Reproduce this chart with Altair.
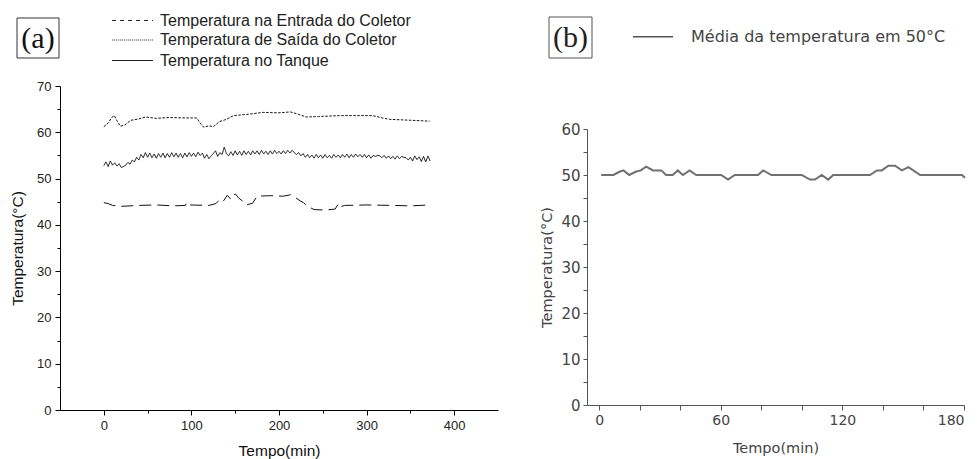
import altair as alt
import pandas as pd
import numpy as np

# ---------------- data: panel (a) ----------------
outlet_t = [0, 5, 9, 12, 15, 19, 24, 31, 38, 48, 60, 75, 90, 106, 110, 114, 120, 125, 132, 140,
            148, 165, 182, 200, 213, 222, 231, 245, 269, 290, 307, 318, 326, 350, 372]
outlet_v = [61.2, 62.0, 63.2, 63.6, 62.5, 61.3, 61.6, 62.6, 62.8, 63.3, 63.0, 63.2, 63.1, 63.1, 62.0, 61.1, 61.4, 61.2, 62.3, 62.8,
            63.6, 63.9, 64.3, 64.2, 64.4, 63.9, 63.3, 63.4, 63.6, 63.6, 63.6, 63.1, 62.8, 62.6, 62.4]

inlet_t = [0, 5, 10, 20, 40, 60, 80, 93, 95, 98, 120, 128, 132, 136, 141, 145, 150, 154, 158, 163,
           170, 175, 190, 205, 213, 218, 224, 228, 233, 240, 252, 264, 268, 270, 275, 300, 330, 350, 372]
inlet_v = [44.8, 44.6, 44.2, 44.0, 44.2, 44.3, 44.1, 44.2, 44.9, 44.3, 44.2, 44.6, 45.4, 45.0, 46.4, 45.5, 46.7, 45.8, 45.2, 44.3,
           44.7, 46.2, 46.3, 46.2, 46.5, 46.0, 45.2, 44.8, 44.0, 43.3, 43.2, 43.4, 44.6, 43.9, 44.2, 44.3, 44.2, 44.1, 44.3]

tank_t = list(np.arange(0, 375, 2.5))  # sampling times (min)
tank_v = [52.8, 53.6, 52.6, 53.8, 52.9, 53.4, 52.7, 53.2, 52.4, 52.6,
          52.9, 53.5, 53.1, 54.0, 53.6, 54.6, 54.0, 55.2, 54.5, 55.6,
          54.6, 55.5, 54.5, 55.3, 54.4, 55.4, 54.6, 55.5, 54.5, 55.4,
          54.6, 55.6, 54.7, 55.5, 54.6, 55.4, 54.5, 55.5, 54.7, 55.6,
          54.8, 55.5, 54.7, 55.7, 55.0, 55.5, 54.4, 55.2, 54.3, 54.9,
          55.4, 56.0, 54.8, 55.6, 55.2, 56.8, 55.4, 54.9, 55.8, 55.0,
          56.0, 55.1, 55.9, 55.0, 56.0, 55.2, 55.9, 55.1, 56.0, 55.3,
          56.0, 55.2, 56.1, 55.3, 55.9, 55.2, 56.0, 55.3, 56.1, 55.4,
          55.9, 55.3, 56.0, 55.4, 56.1, 55.5, 56.1, 55.6, 55.2, 55.6,
          54.9, 55.4, 54.6, 55.2, 54.5, 55.1, 54.4, 55.2, 54.5, 55.1,
          54.4, 55.2, 54.5, 55.0, 54.4, 55.2, 54.6, 55.1, 54.5, 55.2,
          54.6, 55.3, 54.5, 55.2, 54.6, 55.3, 54.7, 55.2, 54.6, 55.2,
          54.5, 55.1, 54.4, 55.0, 54.8, 55.0, 54.9, 54.5, 55.0, 54.4,
          54.9, 54.3, 54.8, 54.2, 54.9, 54.3, 54.8, 54.6, 54.5, 54.0,
          54.6, 53.8, 54.9, 54.1, 54.7, 53.7, 54.8, 53.6, 54.9, 53.8]

series_names = ["Temperatura na Entrada do Coletor",
                "Temperatura de Saída do Coletor",
                "Temperatura no Tanque"]

# ---------------- data: panel (b) ----------------
media_t = [1, 7, 10, 12, 14.8, 18, 20.5, 23.2, 26.6, 30.7, 33, 36.3, 38.8, 41.3, 44.6, 47.9, 60.2, 63.6, 66.9, 78.4,
           80.9, 85, 99.9, 104, 106.5, 109.8, 113, 115.5, 133.6, 137, 139.4, 142.7, 146, 149.3, 152.6, 158.4, 179, 180.5]
media_v = [50, 50, 50.7, 51, 50, 50.7, 51, 51.8, 51, 51, 50, 50, 51, 50, 51, 50, 50, 49, 50, 50,
           51, 50, 50, 49, 49, 50, 49, 50, 50, 51, 51, 52, 52, 51, 51.7, 50, 50, 49.4]

df_a = pd.concat([
    pd.DataFrame({"t": inlet_t, "T": inlet_v, "serie": series_names[0]}),
    pd.DataFrame({"t": outlet_t, "T": outlet_v, "serie": series_names[1]}),
    pd.DataFrame({"t": tank_t, "T": tank_v, "serie": series_names[2]}),
])
df_b = pd.DataFrame({"t": media_t, "T": media_v})
dummy = pd.DataFrame({"k": [0]})

SANS = "Liberation Sans"
SANS_B = "DejaVu Sans"

# ---------------- panel (a) lines ----------------
major_a_x = "datum.value % 100 === 0"
major_a_y = "datum.value % 10 === 0"
line_a = alt.Chart(df_a).mark_line(color="#111", strokeWidth=1).encode(
    x=alt.X("t:Q", title="Tempo(min)",
            scale=alt.Scale(domain=[-50, 450], range=[52, 490], nice=False, zero=False),
            axis=alt.Axis(orient="bottom", offset=-49, values=list(range(0, 401, 50)),
                          labelExpr=f"{major_a_x} ? datum.label : ''",
                          tickSize={"condition": {"test": major_a_x, "value": 5}, "value": 3},
                          domainColor="#000", tickColor="#000", labelColor="#222", titleColor="#111",
                          labelFont=SANS, labelFontSize=13, titleFont=SANS, titleFontSize=15.5,
                          titleFontWeight="normal", labelPadding=4, titlePadding=11, grid=False)),
    y=alt.Y("T:Q", title="Temperatura(°C)",
            scale=alt.Scale(domain=[0, 70], range=[402, 78], nice=False, zero=False),
            axis=alt.Axis(orient="left", offset=-52, values=list(range(0, 71, 5)),
                          labelExpr=f"{major_a_y} ? datum.label : ''",
                          tickSize={"condition": {"test": major_a_y, "value": 5}, "value": 3},
                          domainColor="#000", tickColor="#000", labelColor="#222", titleColor="#111",
                          labelFont=SANS, labelFontSize=13, titleFont=SANS, titleFontSize=15.5,
                          titleFontWeight="normal", labelPadding=4, titlePadding=11, grid=False)),
    strokeDash=alt.StrokeDash("serie:N", legend=None,
                              scale=alt.Scale(domain=series_names,
                                              range=[[12, 6], [2.5, 1.5], [1, 0]])),
)

# ---------------- panel (b) line ----------------
major_b_x = "datum.value % 60 === 0"
major_b_y = "datum.value % 10 === 0"
line_b = alt.Chart(df_b).mark_line(color="#707070", strokeWidth=2).encode(
    x=alt.X("t:Q", title="Tempo(min)",
            scale=alt.Scale(domain=[-6, 180], range=[579, 956], nice=False, zero=False),
            axis=alt.Axis(orient="bottom", offset=-54, values=list(range(0, 181, 20)),
                          labelExpr=f"{major_b_x} ? datum.label : ''",
                          tickSize=5,
                          domainColor="#555", tickColor="#555", labelColor="#444", titleColor="#444",
                          labelFont=SANS_B, labelFontSize=14, titleFont=SANS_B, titleFontSize=14.5,
                          titleFontWeight="normal", labelPadding=3, titlePadding=14, grid=False)),
    y=alt.Y("T:Q", title="Temperatura(°C)",
            scale=alt.Scale(domain=[0, 60], range=[397, 121], nice=False, zero=False),
            axis=alt.Axis(orient="left", offset=-579, values=list(range(0, 61, 5)),
                          labelExpr=f"{major_b_y} ? datum.label : ''",
                          tickSize=4,
                          domainColor="#555", tickColor="#555", labelColor="#444", titleColor="#444",
                          labelFont=SANS_B, labelFontSize=15, titleFont=SANS_B, titleFontSize=14.5,
                          titleFontWeight="normal", labelPadding=3, titlePadding=6, grid=False)),
)


# ---------------- annotations ----------------
def text_at(txt, x, y, size, font, color, align="left"):
    return alt.Chart(dummy).mark_text(text=txt, align=align, baseline="middle", font=font,
                                      fontSize=size, color=color).encode(x=alt.value(x), y=alt.value(y))


def hline(x1, x2, y, color, width, dash=None):
    kw = dict(color=color, strokeWidth=width)
    if dash:
        kw["strokeDash"] = dash
    return alt.Chart(dummy).mark_rule(**kw).encode(x=alt.value(x1), x2=alt.value(x2), y=alt.value(y))


def box(x1, x2, y1, y2, color):
    return alt.Chart(dummy).mark_rect(filled=False, stroke=color, strokeWidth=1).encode(
        x=alt.value(x1), x2=alt.value(x2), y=alt.value(y1), y2=alt.value(y2))


ann = [
    box(9, 51, 10, 50, "#333"),
    text_at("(a)", 30, 31, 30, "Liberation Serif", "#111", align="center"),
    hline(104, 145, 12.5, "#222", 1, [4, 4]),
    hline(104, 145, 32, "#444", 1, [1.2, 0.8]),
    hline(104, 145, 52.5, "#222", 1),
    text_at(series_names[0], 152, 12.5, 16, SANS, "#222"),
    text_at(series_names[1], 152, 32, 16, SANS, "#222"),
    text_at(series_names[2], 152, 52.5, 16, SANS, "#222"),
    box(541, 584, 9, 50, "#555"),
    text_at("(b)", 562.5, 30, 30, "Liberation Serif", "#222", align="center"),
    hline(625, 665, 28.7, "#555", 1.5),
    text_at("Média da temperatura em 50°C", 683, 28.7, 16, SANS_B, "#444"),
]

chart = alt.layer(line_a, line_b, *ann).resolve_scale(
    x="independent", y="independent"
).properties(
    width=961, height=451, padding=0,
    autosize=alt.AutoSizeParams(type="none"),
).configure_view(stroke=None).configure_axis(grid=False)

chart.save("out.html", embed_options={"renderer": "svg", "actions": False})
